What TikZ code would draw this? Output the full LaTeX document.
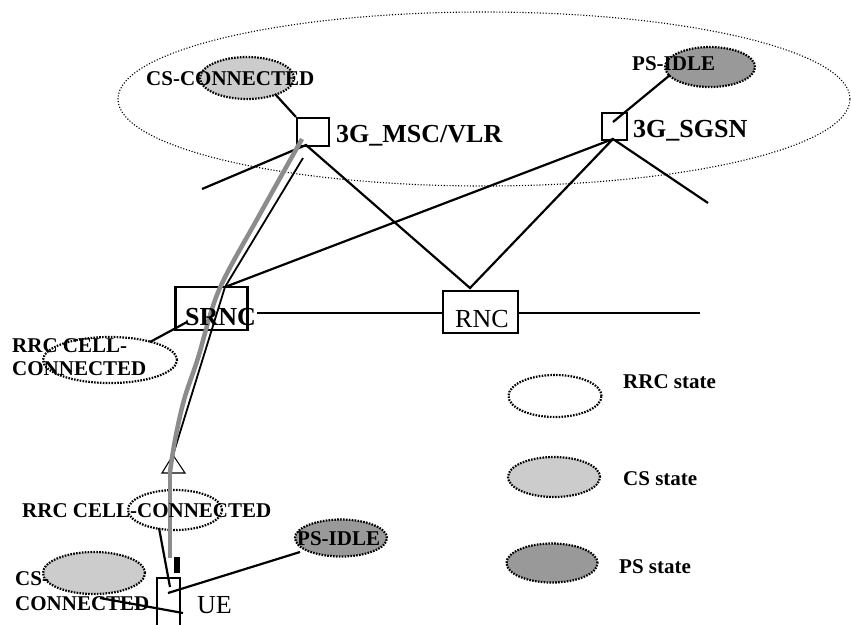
\documentclass[tikz,border=0pt]{standalone}
\usepackage{fontspec}
\setmainfont{Liberation Serif}
\usetikzlibrary{shapes.geometric}
\definecolor{csgray}{HTML}{CCCCCC}
\definecolor{psgray}{HTML}{999999}
\definecolor{pathgray}{HTML}{8C8C8C}
\begin{document}
\begin{tikzpicture}[x=1pt,y=-1pt,
  conn/.style={line width=2.2pt},
  boxnode/.style={draw,line width=2.2pt,rectangle,inner sep=0pt},
  stateell/.style={ellipse,draw,line width=2.2pt,dash pattern=on 1.6pt off 1.3pt,inner sep=0pt},
  bigtxt/.style={font=\fontsize{26}{28}\selectfont\bfseries,inner sep=0pt},
  regtxt/.style={font=\fontsize{26}{28}\selectfont,inner sep=0pt},
  smalltxt/.style={font=\fontsize{21}{23}\selectfont\bfseries,inner sep=0pt},
]
\useasboundingbox (0,0) rectangle (851,625);
\fill[white] (0,0) rectangle (851,625);

% core network domain
\node[ellipse,draw,line width=1.1pt,dash pattern=on 1.1pt off 1.8pt,minimum width=732,minimum height=174,inner sep=0pt] (core) at (484,99) {};

% state ellipses
\node[stateell,fill=csgray,minimum width=94,minimum height=42] (cs1) at (247,78) {};
\node[stateell,fill=psgray,minimum width=90,minimum height=40] (ps1) at (710,67) {};
\node[stateell,minimum width=134,minimum height=46] (rrc1) at (110,360) {};
\node[stateell,minimum width=94,minimum height=40] (rrc2) at (175,510) {};
\node[stateell,fill=psgray,minimum width=92,minimum height=37] (ps2) at (341,538) {};
\node[stateell,fill=csgray,minimum width=102,minimum height=42] (cs2) at (94,573) {};

% legend ellipses
\node[stateell,minimum width=93,minimum height=42] (lrrc) at (555,396) {};
\node[stateell,fill=csgray,minimum width=92,minimum height=40] (lcs) at (554,477) {};
\node[stateell,fill=psgray,minimum width=91,minimum height=39] (lps) at (552,563) {};

% boxes
\node[boxnode,minimum width=32,minimum height=28] (msc) at (313,132) {};
\node[boxnode,minimum width=25,minimum height=27] (sgsn) at (614.5,126.5) {};
\node[boxnode,minimum width=72,minimum height=43] (srnc) at (211.5,308.5) {};
\node[boxnode,minimum width=75,minimum height=42] (rnc) at (480.5,312) {};
\node[rectangle,inner sep=0pt,minimum width=23,minimum height=47] (ue) at (168.5,601.5) {};
\draw[conn] (ue.south west) -- (ue.north west) -- (ue.north east) -- (ue.south east);

% connector end points
\coordinate (mscb) at (306,145);
\coordinate (mscl) at (202,189);
\coordinate (cs1p) at (275,94);
\coordinate (rnct) at (470,288);
\coordinate (sgsnb) at (613,139);
\coordinate (sgsnr) at (708,203);
\coordinate (ps1p) at (670,75);
\coordinate (sgsni) at (613,122);
\coordinate (srnct) at (225,287);
\coordinate (srncr) at (257,313);
\coordinate (rncl) at (443,313);
\coordinate (rncr) at (518,313);
\coordinate (lineend) at (700,313);
\coordinate (rrc1p) at (150,342);
\coordinate (srnci) at (187,322);
\coordinate (rrc2p) at (159,528);
\coordinate (uei1) at (170,587);
\coordinate (ps2p) at (300,552);
\coordinate (uei2) at (168,593);
\coordinate (cs2p) at (100,598);
\coordinate (uei3) at (183,613);
\coordinate (mscg) at (302,139);
\coordinate (mscbl) at (303,158);
\coordinate (apex) at (173,455);
\coordinate (graybend) at (170,472);
\coordinate (grayend) at (170,558);

% links
\draw[conn] (cs1p) -- (msc.north west);
\draw[conn] (mscl) -- (mscb) -- (rnct) -- (sgsnb) -- (sgsnr);
\draw[conn] (srnct) -- (sgsnb);
\draw[conn] (ps1p) -- (sgsni);
\draw[conn] (srncr) -- (rncl);
\draw[conn] (rncr) -- (lineend);
\draw[conn] (rrc1p) -- (srnci);
\draw[conn] (rrc2p) -- (uei1);
\draw[conn] (ps2p) -- (uei2);
\draw[conn] (cs2p) -- (uei3);

% signalling path
\draw[line width=1.8pt] (mscbl) -- (srnct) -- (apex);
\draw[line width=1.1pt] (apex) -- (162,473) -- (185,473) -- cycle;
\draw[pathgray,line width=4.5pt] plot[smooth,tension=0.55] coordinates {(302,139) (260,214) (219,290) (198,358) (184,400) (175,440) (170,472)};
\draw[pathgray,line width=4.5pt] (graybend) -- (grayend);
\fill (174,557) rectangle (180,573);

% labels
\node[bigtxt,anchor=base west] (mscl1) at (336,142) {3G\_MSC/VLR};
\node[bigtxt,anchor=base west] (sgsnl) at (633,137) {3G\_SGSN};
\node[bigtxt,anchor=base west] (srncl) at (185,325) {SRNC};
\node[regtxt,anchor=base west] (rncl1) at (455,327) {RNC};
\node[regtxt,anchor=base west] (uel) at (197,613) {UE};
\node[smalltxt,anchor=base west] (cs1l) at (146,85) {CS-CONNECTED};
\node[smalltxt,anchor=base west] (ps1l) at (632,70) {PS-IDLE};
\node[smalltxt,anchor=base west] (rrc1a) at (12,352) {RRC CELL-};
\node[smalltxt,anchor=base west] (rrc1b) at (12,375) {CONNECTED};
\node[smalltxt,anchor=base west] (rrc2l) at (22,517) {RRC CELL-CONNECTED};
\node[smalltxt,anchor=base west] (ps2l) at (297,545) {PS-IDLE};
\node[smalltxt,anchor=base west] (cs2a) at (15,585) {CS-};
\node[smalltxt,anchor=base west] (cs2b) at (15,610) {CONNECTED};
\node[smalltxt,anchor=base west] (lrrcl) at (623,388) {RRC state};
\node[smalltxt,anchor=base west] (lcsl) at (623,485) {CS state};
\node[smalltxt,anchor=base west] (lpsl) at (619,573) {PS state};
\end{tikzpicture}
\end{document}
